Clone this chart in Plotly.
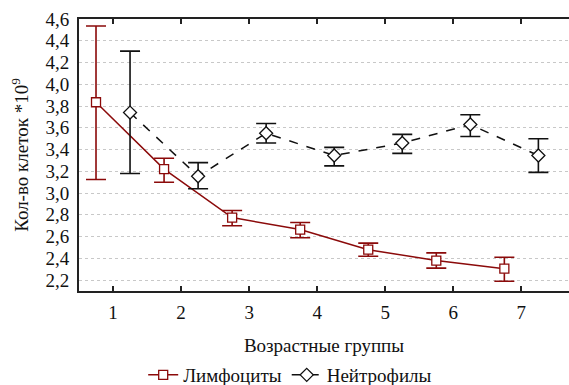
import plotly.graph_objects as go

groups = [1, 2, 3, 4, 5, 6, 7]
lymph_mean = [3.835, 3.22, 2.775, 2.665, 2.48, 2.38, 2.305]
lymph_hi = [4.535, 3.32, 2.84, 2.73, 2.54, 2.45, 2.41]
lymph_lo = [3.125, 3.10, 2.70, 2.59, 2.42, 2.31, 2.19]
neut_mean = [3.74, 3.155, 3.55, 3.345, 3.46, 3.63, 3.345]
neut_hi = [4.305, 3.28, 3.64, 3.42, 3.54, 3.72, 3.50]
neut_lo = [3.18, 3.04, 3.46, 3.25, 3.365, 3.52, 3.19]

red = "#8b0a0a"
black = "#111111"
offset = 0.25

lx = [g - offset for g in groups]
nx = [g + offset for g in groups]

fig = go.Figure(layout=dict(template="none"))
fig.add_trace(go.Scatter(
    x=lx, y=lymph_mean, name="Лимфоциты", mode="lines+markers",
    line=dict(color=red, width=1.5),
    marker=dict(symbol="square", size=9, color="white", line=dict(width=1.3, color=red)),
    error_y=dict(type="data", symmetric=False,
                 array=[h - m for h, m in zip(lymph_hi, lymph_mean)],
                 arrayminus=[m - l for m, l in zip(lymph_mean, lymph_lo)],
                 color=red, thickness=1.6, width=10),
))
fig.add_trace(go.Scatter(
    x=nx, y=neut_mean, name="Нейтрофилы", mode="lines+markers",
    line=dict(color=black, width=1.5, dash="dash"),
    marker=dict(symbol="diamond", size=10, color="white", line=dict(width=1.3, color=black)),
    error_y=dict(type="data", symmetric=False,
                 array=[h - m for h, m in zip(neut_hi, neut_mean)],
                 arrayminus=[m - l for m, l in zip(neut_mean, neut_lo)],
                 color=black, thickness=1.6, width=10),
))

font_family = "Times New Roman"
fs = 19
fig.update_layout(
    width=569, height=385,
    margin=dict(l=79, r=0, t=19, b=94),
    plot_bgcolor="white", paper_bgcolor="white",
    separators=", ",
    font=dict(family=font_family, size=fs, color="#111111"),
    showlegend=True,
    legend=dict(orientation="h", xref="container", yref="container",
                x=0.51, y=0.026, xanchor="center", yanchor="middle",
                font=dict(family=font_family, size=fs), itemwidth=30, tracegroupgap=0),
)
fig.update_xaxes(
    range=[0.5, 7.7], tickvals=groups, ticktext=[str(g) for g in groups],
    showgrid=False, zeroline=False,
    showline=True, linecolor="#222222", linewidth=2, mirror="ticks",
    ticks="inside", ticklen=5, tickwidth=1.5, tickcolor="#222222",
    ticklabelstandoff=3, tickfont=dict(family=font_family, size=fs),
    title=dict(text="Возрастные группы", standoff=17, font=dict(family=font_family, size=fs)),
)
fig.update_yaxes(
    range=[2.1, 4.6], tickvals=[2.2 + 0.2 * i for i in range(13)], tickformat=".1f",
    showgrid=True, gridcolor="#c8c8c8", griddash="dot", gridwidth=1,
    zeroline=False, showline=True, linecolor="#222222", linewidth=2,
    ticks="", ticklabelstandoff=4, tickfont=dict(family=font_family, size=fs),
    title=dict(text="Кол-во клеток *10<sup>9</sup>", standoff=12, font=dict(family=font_family, size=fs)),
)

fig.write_html("out.html")
